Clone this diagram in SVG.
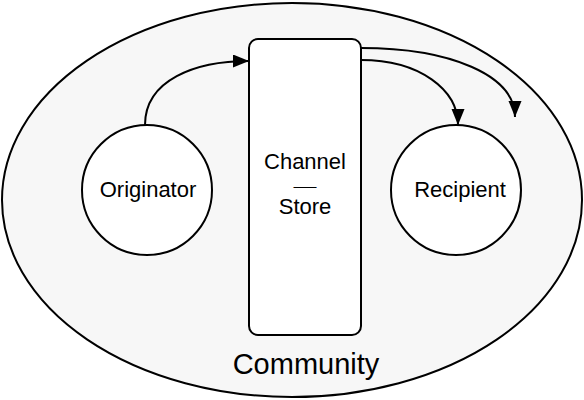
<svg xmlns="http://www.w3.org/2000/svg" width="584" height="400" viewBox="0 0 584 400">
<style>
.shape{stroke:#000;stroke-width:2;fill:#fff}
.edge{stroke:#000;stroke-width:2;fill:none}
text{font-family:"Liberation Sans",Arial,sans-serif;fill:#000;text-anchor:middle}
.lbl{font-size:22px}
</style>
<defs>
<marker id="a" markerUnits="userSpaceOnUse" markerWidth="20" markerHeight="20" refX="16" refY="6.5" orient="auto">
<path d="M0,0 L16,6.5 L0,13 z" fill="#000"/>
</marker>
</defs>
<g id="community">
<ellipse cx="292" cy="200" rx="290" ry="197" fill="#f7f7f7" stroke="#000" stroke-width="2"/>
<text x="306" y="374" style="font-size:29px">Community</text>
</g>
<g id="channel">
<rect class="shape" x="249" y="39" width="112" height="296" rx="9"/>
<text class="lbl" x="305" y="169">Channel</text>
<text x="305" y="190.5" style="font-size:14px" textLength="23" lengthAdjust="spacingAndGlyphs">—</text>
<text class="lbl" x="305" y="214">Store</text>
</g>
<g id="originator">
<circle class="shape" cx="147" cy="190" r="65"/>
<text class="lbl" x="148" y="197">Originator</text>
</g>
<g id="recipient">
<circle class="shape" cx="456" cy="190" r="65"/>
<text class="lbl" x="460" y="197">Recipient</text>
</g>
<g id="connectors">
<path class="edge" d="M145,125 C145,80 195,61 249,61" marker-end="url(#a)"/>
<path class="edge" d="M361,60 C420,60 458,90 458,125" marker-end="url(#a)"/>
<path class="edge" d="M361,48 C450,48 515,75 515,117" marker-end="url(#a)"/>
</g>
</svg>
